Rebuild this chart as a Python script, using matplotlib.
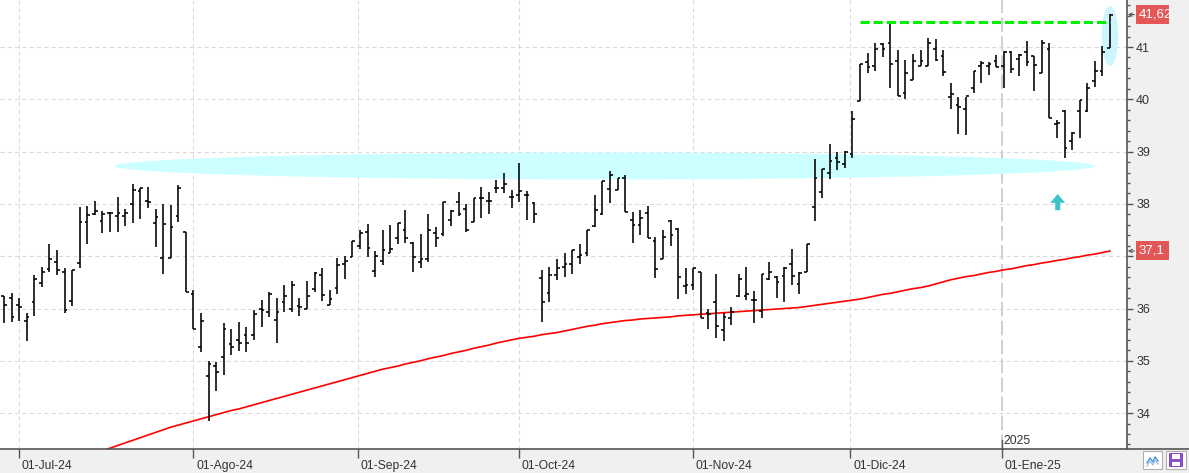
import numpy as np
import pandas as pd
import matplotlib
matplotlib.use('Agg')
import matplotlib.pyplot as plt
from matplotlib.patches import Ellipse, Rectangle, Polygon
from matplotlib.lines import Line2D
from matplotlib.ticker import MultipleLocator
import matplotlib.transforms as mtransforms

plt.rcParams['font.family'] = ['Liberation Sans', 'DejaVu Sans']

# ---------------- data ----------------
holidays = ['2024-12-25', '2024-12-26', '2025-01-01']
dates = pd.bdate_range('2024-06-27', '2025-01-22')
dates = dates[~dates.isin(pd.to_datetime(holidays))]

opens = [36.23, 36.20, 36.07, 35.77, 36.12, 36.48, 36.75, 36.89, 36.69, 36.15,
         36.87, 37.65, 37.81, 37.68, 37.82, 37.77, 37.77, 38.00, 38.24, 38.06,
         37.64, 36.96, 36.96, 37.77, 37.47, 36.28, 35.26, 34.71, 34.90, 35.07,
         35.32, 35.39, 35.49, 35.49, 36.00, 35.93, 35.78, 36.12, 36.00, 36.05,
         36.00, 36.37, 36.64, 36.07, 36.40, 36.85, 36.99, 37.19, 37.46, 36.72,
         36.91, 37.07, 37.34, 37.50, 37.26, 36.88, 36.94, 37.45, 37.42, 37.69,
         38.04, 37.90, 37.66, 38.12, 38.05, 38.31, 38.30, 38.14, 38.17, 38.17,
         38.02, 36.58, 36.29, 36.65, 36.80, 36.86, 36.98, 37.06, 37.58, 37.81,
         38.28, 38.27, 38.50, 37.70, 37.60, 37.82, 37.29, 36.94, 37.67, 37.52,
         36.43, 36.45, 36.69, 35.92, 36.13, 35.59, 35.81, 36.24, 36.24, 36.16,
         35.96, 36.56, 36.61, 36.62, 36.86, 36.47, 36.69, 37.95, 38.22, 38.59,
         38.87, 38.77, 38.96, 39.97, 40.72, 40.64, 41.05, 41.07, 40.73, 40.12,
         40.37, 40.64, 40.64, 40.96, 40.83, 40.05, 39.89, 39.82, 40.21, 40.63,
         40.63, 40.73, 40.63, 40.91, 40.77, 40.90, 40.82, 40.51, 40.96, 39.52,
         39.78, 39.20, 39.78, 39.77, 40.35, 40.54, 40.98]
highs = [36.24, 36.29, 36.20, 35.92, 36.64, 36.80, 37.24, 37.11, 36.77, 36.74,
         37.95, 37.96, 38.06, 37.87, 37.85, 38.13, 37.90, 38.38, 38.30, 38.33,
         37.90, 37.99, 37.98, 38.36, 37.47, 36.36, 35.91, 35.00, 34.98, 35.72,
         35.61, 35.74, 35.64, 35.97, 36.16, 36.31, 36.20, 36.45, 36.53, 36.20,
         36.53, 36.69, 36.78, 36.35, 36.96, 37.01, 37.30, 37.51, 37.61, 37.10,
         37.51, 37.60, 37.63, 37.88, 37.28, 37.42, 37.81, 37.55, 38.03, 37.88,
         38.22, 38.00, 38.12, 38.33, 38.23, 38.46, 38.60, 38.26, 38.79, 38.25,
         38.03, 36.74, 36.79, 36.95, 37.07, 37.12, 37.23, 37.50, 38.17, 38.44,
         38.63, 38.49, 38.56, 37.85, 37.88, 37.96, 37.36, 37.51, 37.69, 37.53,
         36.77, 36.77, 36.70, 36.00, 36.66, 35.91, 36.02, 36.66, 36.79, 36.34,
         36.66, 36.88, 36.62, 36.80, 37.13, 36.70, 37.24, 38.86, 38.66, 39.15,
         39.00, 39.01, 39.78, 40.67, 40.88, 41.07, 41.07, 41.47, 40.94, 40.75,
         40.86, 40.94, 41.17, 41.15, 40.94, 40.31, 40.04, 40.05, 40.54, 40.73,
         40.72, 40.85, 40.93, 40.93, 40.86, 41.12, 40.83, 41.14, 41.07, 39.60,
         39.80, 39.38, 39.99, 40.31, 40.73, 41.01, 41.63]
lows = [35.73, 35.75, 35.77, 35.37, 35.85, 36.42, 36.69, 36.64, 35.91, 36.04,
        36.77, 37.24, 37.78, 37.44, 37.46, 37.47, 37.57, 37.63, 37.71, 37.92,
        37.17, 36.66, 36.96, 37.66, 36.31, 35.61, 35.16, 33.84, 34.43, 34.73,
        35.12, 35.19, 35.16, 35.40, 35.65, 35.83, 35.35, 35.93, 35.94, 35.86,
        36.00, 36.31, 36.15, 36.07, 36.27, 36.56, 36.99, 37.13, 36.98, 36.60,
        36.83, 37.07, 37.23, 37.25, 36.69, 36.78, 36.88, 37.18, 37.39, 37.58,
        37.77, 37.46, 37.65, 37.74, 37.81, 38.20, 38.20, 37.93, 38.03, 37.69,
        37.63, 35.74, 36.13, 36.55, 36.61, 36.66, 36.86, 37.00, 37.56, 37.78,
        38.01, 38.27, 37.84, 37.26, 37.41, 37.34, 36.59, 36.94, 37.20, 36.18,
        36.28, 36.35, 35.81, 35.60, 35.43, 35.37, 35.68, 36.22, 36.16, 35.72,
        35.81, 36.54, 36.21, 36.12, 36.45, 36.28, 36.69, 37.68, 38.12, 38.47,
        38.64, 38.68, 38.87, 39.96, 40.50, 40.54, 40.80, 40.22, 40.07, 40.00,
        40.36, 40.64, 40.64, 40.73, 40.45, 39.82, 39.34, 39.32, 40.13, 40.32,
        40.47, 40.61, 40.21, 40.50, 40.44, 40.63, 40.15, 40.51, 39.65, 39.26,
        38.88, 39.03, 39.26, 39.75, 40.23, 40.44, 40.98]
closes = [36.06, 35.84, 36.03, 35.84, 36.56, 36.69, 36.94, 36.74, 35.97, 36.74,
          37.65, 37.79, 37.87, 37.81, 37.82, 37.82, 37.82, 38.27, 38.30, 38.03,
          37.75, 37.62, 37.55, 38.31, 36.31, 35.61, 35.76, 34.93, 34.78, 35.61,
          35.26, 35.35, 35.35, 35.90, 35.97, 36.27, 35.93, 36.23, 36.44, 36.03,
          36.23, 36.67, 36.26, 36.18, 36.83, 36.91, 37.30, 37.44, 37.15, 37.00,
          37.12, 37.14, 37.63, 37.35, 36.98, 36.94, 37.51, 37.34, 38.03, 37.87,
          37.80, 37.51, 38.12, 38.12, 38.05, 38.31, 38.39, 38.14, 38.25, 38.17,
          37.80, 36.12, 36.65, 36.77, 36.86, 37.11, 37.02, 37.50, 37.88, 38.44,
          38.55, 38.49, 37.84, 37.60, 37.74, 37.34, 36.76, 37.36, 37.41, 36.60,
          36.45, 36.77, 35.81, 35.90, 35.66, 35.84, 35.94, 36.57, 36.28, 36.16,
          36.66, 36.69, 36.51, 36.77, 36.62, 36.68, 37.24, 38.49, 38.66, 38.82,
          38.81, 39.00, 39.63, 40.67, 40.61, 40.96, 40.96, 40.67, 40.07, 40.51,
          40.73, 40.73, 41.07, 40.75, 40.53, 40.10, 39.85, 40.07, 40.54, 40.70,
          40.68, 40.61, 40.91, 40.58, 40.85, 40.71, 40.66, 41.07, 39.65, 39.55,
          39.06, 39.35, 39.99, 40.21, 40.54, 40.91, 41.62]
ma200 = [32.63, 32.68, 32.73, 32.78, 32.83, 32.88, 32.93, 32.98, 33.03, 33.08,
         33.13, 33.18, 33.23, 33.28, 33.33, 33.38, 33.43, 33.48, 33.53, 33.58,
         33.63, 33.68, 33.73, 33.77, 33.81, 33.85, 33.89, 33.93, 33.97, 34.01,
         34.05, 34.08, 34.12, 34.16, 34.20, 34.24, 34.28, 34.32, 34.36, 34.40,
         34.44, 34.48, 34.52, 34.56, 34.60, 34.64, 34.68, 34.72, 34.76, 34.80,
         34.84, 34.87, 34.90, 34.94, 34.97, 35.00, 35.04, 35.07, 35.10, 35.14,
         35.17, 35.20, 35.24, 35.27, 35.30, 35.34, 35.37, 35.40, 35.43, 35.45,
         35.47, 35.50, 35.52, 35.54, 35.57, 35.60, 35.63, 35.66, 35.68, 35.71,
         35.73, 35.75, 35.77, 35.78, 35.80, 35.81, 35.82, 35.83, 35.84, 35.86,
         35.87, 35.88, 35.89, 35.90, 35.91, 35.92, 35.93, 35.94, 35.95, 35.96,
         35.97, 35.98, 35.99, 36.00, 36.01, 36.02, 36.04, 36.06, 36.08, 36.10,
         36.12, 36.14, 36.16, 36.18, 36.21, 36.24, 36.27, 36.29, 36.32, 36.35,
         36.38, 36.40, 36.43, 36.47, 36.51, 36.55, 36.58, 36.61, 36.63, 36.66,
         36.69, 36.71, 36.74, 36.76, 36.79, 36.82, 36.84, 36.87, 36.89, 36.92,
         36.94, 36.97, 36.99, 37.02, 37.04, 37.07, 37.10]

month_labels = ['01-Jul-24', '01-Ago-24', '01-Sep-24', '01-Oct-24',
                '01-Nov-24', '01-Dic-24', '01-Ene-25']
year_label = '2025'
price_ticks = [34, 35, 36, 37, 38, 39, 40, 41]
price_tick_labels = ['34', '35', '36', '', '38', '39', '40', '41']  # 37 hidden by MA label
last_price_label = '41,62'
ma_last_label = '37,1'
resistance = 41.47
resistance_from = 113

# support band ellipse & highlight
band_center = (79.3, 38.725)
band_size = (129.4, 0.516)
hl_center = (146.0, 41.21)
hl_size = (2.2, 1.14)
arrow_x, arrow_tip, arrow_neck, arrow_base = 139.1, 38.19, 38.02, 37.88

# ---------------- figure ----------------
W, H = 1189, 473
fig = plt.figure(figsize=(W / 100, H / 100), dpi=100, facecolor='#f0f0f0')
AX_R, AX_B = 1126.7, 449.3
ax = fig.add_axes([0, (H - AX_B) / H, AX_R / W, AX_B / H])
ax.set_facecolor('white')

x = np.arange(len(dates))
ax.set_xlim(-0.53, 148.21)
ax.set_ylim(33.308, 41.899)

# month start positions
dser = pd.Series(dates)
first_idx = dser.groupby([dser.dt.year, dser.dt.month]).head(1).index.to_numpy()[1:]
month_pos = []
for i in first_idx:
    month_pos.append(i - (0.3 if dates[i].day != 1 else 0.05))

grid_kw = dict(color='#d9d9d9', lw=0.75, ls=(0, (4, 3)), zorder=0.5)
for p in price_ticks:
    ax.axhline(p, **grid_kw)
for p in month_pos[:-1]:
    ax.axvline(p, **grid_kw)
ax.axvline(month_pos[-1], color='#cccccc', lw=1.3, ls=(0, (8, 2.5)), zorder=0.6)

# annotations behind bars
ax.add_patch(Ellipse(band_center, band_size[0], band_size[1],
                     facecolor='#ccffff', edgecolor='none', zorder=1))
ax.add_patch(Ellipse(hl_center, hl_size[0], hl_size[1],
                     facecolor='#ccf6fb', edgecolor='none', zorder=1))

# moving average
ax.plot(x, ma200, color='#ff0000', lw=1.2, zorder=2.5)

# OHLC bars
tk = 0.36
ax.vlines(x, lows, highs, color='black', lw=1.15, zorder=3)
ax.hlines(opens, x - tk, x, color='black', lw=1.15, zorder=3)
ax.hlines(closes, x, x + tk, color='black', lw=1.15, zorder=3)

# resistance line
ax.hlines(resistance, resistance_from, x[-1], color='#00ee00', lw=2.2,
          linestyles=(0, (3, 1.3)), zorder=4)

# arrow
hw, sw = 0.99, 0.33
ax.add_patch(Polygon([(arrow_x, arrow_tip), (arrow_x + hw, arrow_neck),
                      (arrow_x + sw, arrow_neck), (arrow_x + sw, arrow_base),
                      (arrow_x - sw, arrow_base), (arrow_x - sw, arrow_neck),
                      (arrow_x - hw, arrow_neck)], closed=True,
                     facecolor='#3ec4c8', edgecolor='none', zorder=4))

# axes styling
for s in ['top', 'left', 'bottom']:
    ax.spines[s].set_visible(False)
ax.spines['right'].set_color('#555555')
ax.spines['right'].set_linewidth(1.2)
ax.yaxis.tick_right()
ax.set_yticks(price_ticks)
ax.set_yticklabels(price_tick_labels)
ax.yaxis.set_minor_locator(MultipleLocator(0.2))
ax.tick_params(axis='y', which='major', length=4.3, width=1, color='#555555',
               labelsize=9, labelcolor='#333333', pad=2.5)
ax.tick_params(axis='y', which='minor', length=2.2, width=1, color='#555555')

ax.set_xticks(month_pos)
ax.set_xticklabels(month_labels)
ax.tick_params(axis='x', which='major', length=6.5, width=1, color='#555555',
               labelsize=8.7, labelcolor='#333333', pad=1.5)
off = mtransforms.ScaledTranslation(3 / 100, 0, fig.dpi_scale_trans)
for lbl in ax.get_xticklabels():
    lbl.set_horizontalalignment('left')
    lbl.set_transform(lbl.get_transform() + off)

# year marker
bx = mtransforms.blended_transform_factory(ax.transData, ax.transAxes)
ax.plot([month_pos[-1]] * 2, [0, 9.5 / AX_B], color='#555555', lw=1,
        transform=bx, clip_on=False, zorder=5)
ax.text(month_pos[-1] + 0.3, 8.5 / AX_B, year_label, transform=bx,
        fontsize=8.7, color='#333333', ha='left', va='center', zorder=5)

# bottom axis line across whole figure
fig.add_artist(Line2D([0, 1], [(H - AX_B) / H] * 2, transform=fig.transFigure,
                      color='#555555', lw=1.2))

# price labels on right axis
by = mtransforms.blended_transform_factory(ax.transAxes, ax.transData)
box_w = 33 / AX_R
box_h = 19 / 52.3
for val, txt in [(closes[-1], last_price_label), (ma200[-1], ma_last_label)]:
    ax.add_patch(Rectangle((1136 / AX_R, val - box_h / 2), box_w, box_h,
                           transform=by, facecolor='#e35757', edgecolor='none',
                           clip_on=False, zorder=10))
    ax.text(1138.5 / AX_R, val, txt, transform=by, color='white', fontsize=9.5,
            ha='left', va='center', zorder=11, clip_on=False)
    ax.annotate('', xy=(1127.8 / AX_R, val), xytext=(1134.5 / AX_R, val),
                xycoords=by, textcoords=by,
                arrowprops=dict(arrowstyle='->', color='#555555', lw=0.8,
                                shrinkA=0, shrinkB=0, mutation_scale=6),
                annotation_clip=False, zorder=11)

# bottom-right buttons
def fr(px, py, w, h):
    return (px / W, (H - py - h) / H), w / W, h / H

xy, w, h = fr(1143, 451, 19, 18)
fig.add_artist(Rectangle(xy, w, h, transform=fig.transFigure,
                         facecolor='white', edgecolor='#b0b0b0', lw=0.8))
zx = np.array([1147, 1150, 1153, 1155, 1158]) / W
zy = (H - np.array([463, 458, 462, 457, 461])) / H
fig.add_artist(Line2D(zx, zy, transform=fig.transFigure, color='#4a90d9', lw=1.0))
fig.add_artist(Line2D(zx, zy - 3 / H, transform=fig.transFigure, color='#9cc4ec', lw=1.0))
xy, w, h = fr(1166, 451, 20, 18)
fig.add_artist(Rectangle(xy, w, h, transform=fig.transFigure,
                         facecolor='white', edgecolor='#b0b0b0', lw=0.8))
xy, w, h = fr(1169, 453, 14, 14)
fig.add_artist(Rectangle(xy, w, h, transform=fig.transFigure,
                         facecolor='#8a4fc6', edgecolor='none'))
xy, w, h = fr(1172, 454, 8, 5)
fig.add_artist(Rectangle(xy, w, h, transform=fig.transFigure,
                         facecolor='white', edgecolor='none'))
xy, w, h = fr(1172, 462, 8, 4)
fig.add_artist(Rectangle(xy, w, h, transform=fig.transFigure,
                         facecolor='white', edgecolor='none'))

fig.savefig('out.png', dpi=100, facecolor=fig.get_facecolor())
